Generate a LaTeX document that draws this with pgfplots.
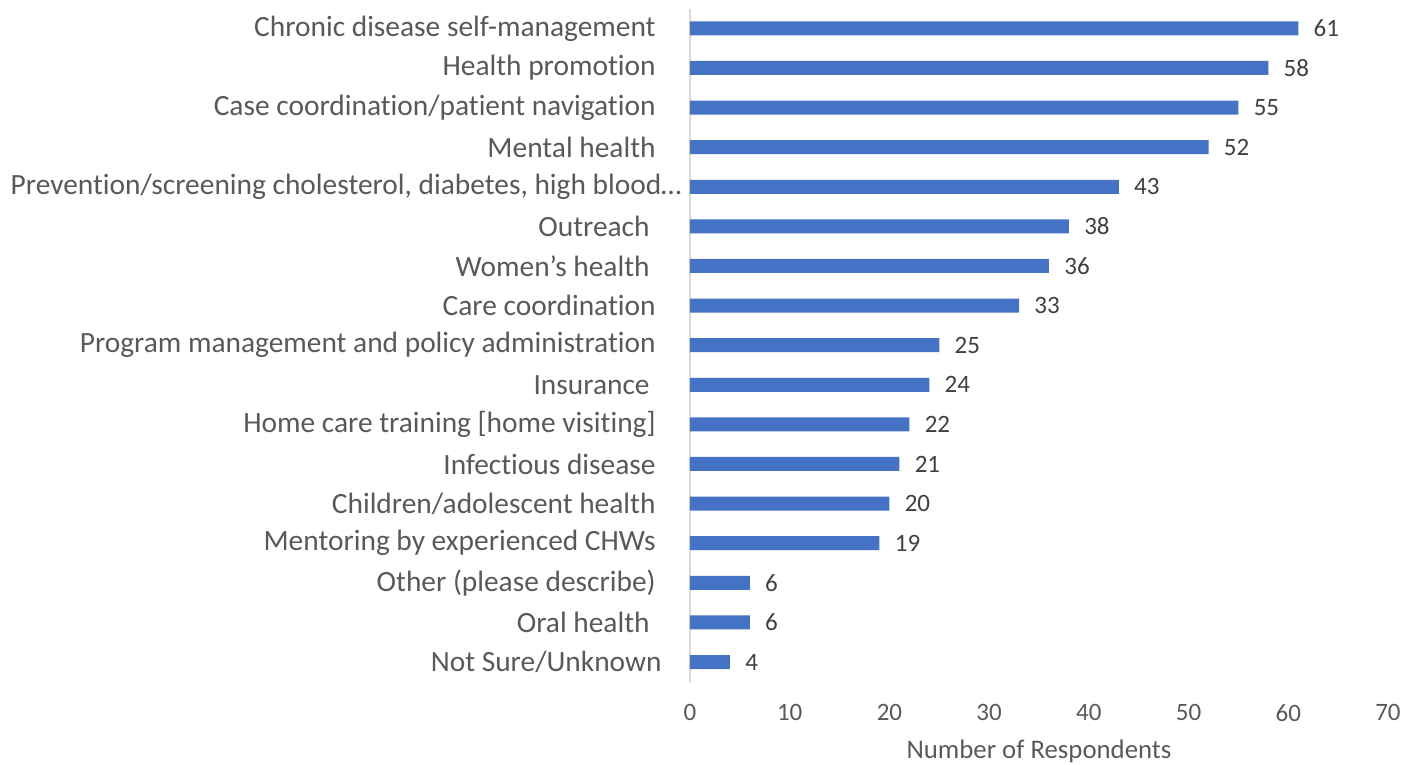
\documentclass[border=0pt]{standalone}
\usepackage{fontspec}
\setmainfont{Carlito}[Ligatures=NoCommon]
\usepackage{pgfplots}
\pgfplotsset{compat=1.18}
\definecolor{barblue}{HTML}{4472C4}
\definecolor{txtgray}{HTML}{595959}
\definecolor{numgray}{HTML}{404040}
\definecolor{axgray}{HTML}{D9D9D9}

\begin{document}
\begin{tikzpicture}
\useasboundingbox (-345pt,-41.6pt) rectangle (364pt,340.9pt);
\begin{axis}[
    at={(0,0)}, anchor=south west,
    scale only axis,
    width=349pt, height=336.6pt,
    xbar,
    bar width=7pt,
    xmin=0, xmax=70,
    ymin=-0.5, ymax=16.5,
    xtick={0,10,...,70},
    ytick={0,...,16},
    yticklabels={
        {Not Sure/Unknown\kern10pt},
        {Oral health\kern16pt},
        {Other (please describe)\kern13pt},
        {Mentoring by experienced CHWs\kern13pt},
        {Children/adolescent health\kern13pt},
        {Infectious disease\kern13pt},
        {Home care training [home visiting]\kern13pt},
        {Insurance\kern16pt},
        {Program management and policy administration\kern13pt},
        {Care coordination\kern13pt},
        {Women’s health\kern16pt},
        {Outreach\kern16pt},
        {Prevention/screening cholesterol, diabetes, high blood…},
        {Mental health\kern13pt},
        {Case coordination/patient navigation\kern13pt},
        {Health promotion\kern13pt},
        {Chronic disease self-management\kern13pt}},
    axis lines*=left,
    x axis line style={draw=none},
    y axis line style={draw=axgray, line width=0.8pt},
    major tick length=0pt,
    yticklabel style={font=\fontsize{14.7}{16}\selectfont, text=txtgray, anchor=east, inner sep=0pt, xshift=-4pt},
    xticklabel style={font=\fontsize{12.5}{14}\selectfont, text=txtgray, anchor=north, inner sep=0pt, yshift=-11pt},
    /pgf/number format/assume math mode=true,
    xlabel={Number of Respondents},
    xlabel style={font=\fontsize{13.4}{15}\selectfont, text=txtgray, at={(axis description cs:0.5,0)}, anchor=center, yshift=-35pt},
    nodes near coords,
    nodes near coords style={font=\fontsize{12.5}{14}\selectfont, text=numgray, anchor=west, inner sep=0pt, xshift=7.5pt},
    clip=false,
]
\addplot[fill=barblue, draw=none] coordinates {
    (4,0) (6,1) (6,2) (19,3) (20,4) (21,5) (22,6) (24,7) (25,8)
    (33,9) (36,10) (38,11) (43,12) (52,13) (55,14) (58,15) (61,16)
};
\end{axis}
\end{tikzpicture}
\end{document}
